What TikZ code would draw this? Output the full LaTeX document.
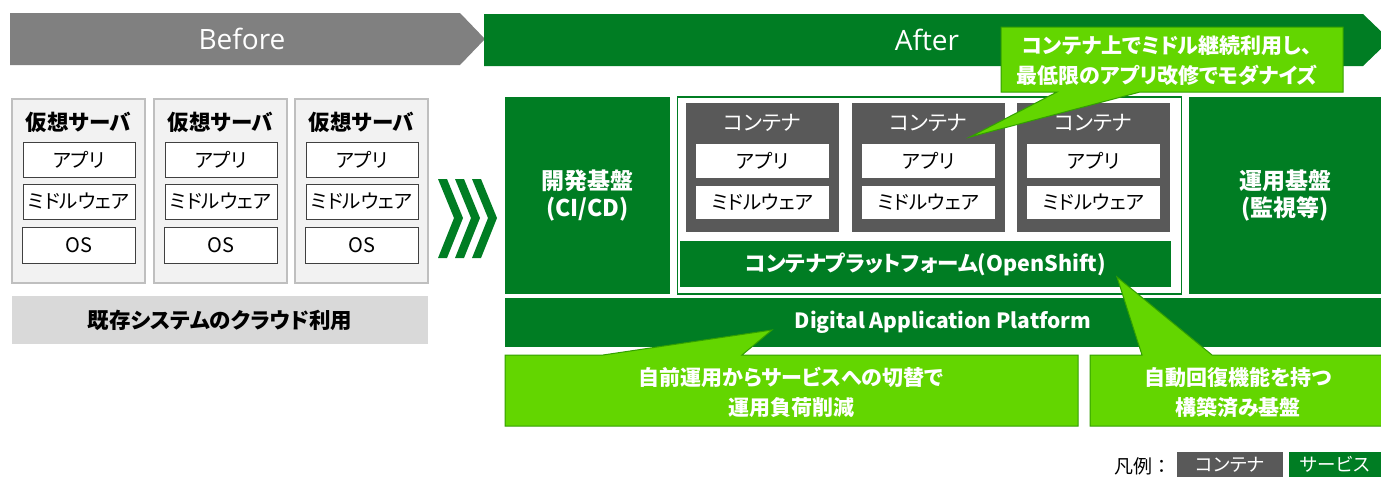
\documentclass[tikz,border=0pt]{standalone}
\usepackage{fontspec}
\setmainfont{Noto Sans CJK JP}[RawFeature=+palt]
\newfontfamily\fullwidthfont{Noto Sans CJK JP}
\newfontfamily\latinfont{Open Sans}
\definecolor{dkgreen}{RGB}{0,125,35}
\definecolor{lime}{RGB}{99,214,0}
\definecolor{limeborder}{RGB}{50,160,0}
\definecolor{bannergray}{RGB}{128,128,128}
\definecolor{contgray}{RGB}{89,89,89}
\definecolor{srvfill}{RGB}{242,242,242}
\definecolor{srvborder}{RGB}{191,191,191}
\definecolor{lblgray}{RGB}{217,217,217}
\tikzset{
  every node/.style={inner sep=0pt, outer sep=0pt},
  srv/.style={fill=srvfill, draw=srvborder, line width=2pt},
  inbox/.style={fill=white, draw=black!75, line width=1pt, font=\fontsize{19.5}{22}\selectfont},
  srvtitle/.style={font=\bfseries\fontsize{21.5}{24}\selectfont},
  cont/.style={fill=contgray},
  contin/.style={fill=white, font=\fontsize{19.5}{22}\selectfont},
  conttitle/.style={text=white, font=\fontsize{21}{24}\selectfont},
  svc/.style={fill=dkgreen, text=white, align=center},
  callout/.style={fill=lime, draw=limeborder, line width=1pt},
  callouttext/.style={text=white, align=center, font=\bfseries\fontsize{21}{30}\selectfont},
  banner/.style={text=white, font=\latinfont\fontsize{28}{30}\selectfont}
}
\begin{document}
\begin{tikzpicture}[x=1pt,y=-1pt]
\useasboundingbox (0,0) rectangle (1381,477);
\clip (0,0) rectangle (1381,477);
% banners
\fill[bannergray] (10,13) -- (460,13) -- (485,39) -- (460,65) -- (10,65) -- cycle;
\node[banner] (before) at (242,39) {Before};
\fill[dkgreen] (484,14) -- (1363,14) -- (1390,40) -- (1363,66) -- (484,66) -- cycle;
\node[banner] (after) at (927,40) {After};
% servers
\foreach \i/\x in {1/12,2/154,3/295}{
  \node[srv, anchor=north west, minimum width=133, minimum height=184] (srv\i) at (\x,99) {};
  \node[srvtitle] (srvt\i) at (\x+66.5,122) {仮想サーバ};
  \node[inbox, minimum width=112, minimum height=35] (app\i) at (\x+67,159.5) {アプリ};
  \node[inbox, minimum width=112, minimum height=35] (mw\i) at (\x+67,201.5) {ミドルウェア};
  \node[inbox, minimum width=113, minimum height=36, font=\fontsize{20}{22}\selectfont] (os\i) at (\x+67,245) {OS};
}
\node[fill=lblgray, minimum width=416, minimum height=48, font=\bfseries\fontsize{21.5}{24}\selectfont] (exist) at (220,320) {既存システムのクラウド利用};
% chevrons
\foreach \x in {438,455,472}{
  \fill[dkgreen] (\x,179) -- (\x+9,179) -- (\x+25,218) -- (\x+9,258) -- (\x,258) -- (\x+16,218) -- cycle;
}
% after side
\node[svc, minimum width=165, minimum height=197, font=\bfseries\fontsize{23}{27}\selectfont] (dev) at (587.5,195.5) {開発基盤\\(CI/CD)};
\node[draw=dkgreen, line width=1.5pt, fill=white, minimum width=504, minimum height=197] (carea) at (929.5,195.5) {};
\foreach \i/\x in {1/686,2/852,3/1017}{
  \node[cont, minimum width=153, minimum height=129] (c\i) at (\x+76.5,167.5) {};
  \node[conttitle] (ct\i) at (\x+76.5,123) {コンテナ};
  \node[contin, minimum width=133, minimum height=34] (capp\i) at (\x+76.5,161) {アプリ};
  \node[contin, minimum width=133, minimum height=33] (cmw\i) at (\x+76.5,202.5) {ミドルウェア};
}
\node[svc, minimum width=491, minimum height=46, font=\bfseries\fontsize{21.5}{24}\selectfont] (plat) at (925.5,264) {コンテナプラットフォーム(OpenShift)};
\node[svc, minimum width=192, minimum height=197, font=\bfseries\fontsize{23}{27}\selectfont] (ops) at (1285,195.5) {運用基盤\\(監視等)};
\node[svc, minimum width=876, minimum height=49, font=\bfseries\fontsize{21}{24}\selectfont] (dap) at (943,322.5) {Digital Application Platform};
% callouts
\path[callout] (1001,27) -- (1343,27) -- (1343,92) -- (1140,92) -- (970,137) -- (1057,92) -- (1001,92) -- cycle;
\node[callouttext] (co1) at (1167,61) {コンテナ上でミドル継続利用し、\\最低限のアプリ改修でモダナイズ};
\path[callout] (505,355) -- (603,355) -- (772,330) -- (742,355) -- (1078,355) -- (1078,426) -- (505,426) -- cycle;
\node[callouttext] (co2) at (791,392.5) {自前運用からサービスへの切替で\\運用負荷削減};
\path[callout] (1090,355) -- (1142,355) -- (1117,277) -- (1212,355) -- (1390,355) -- (1390,426) -- (1090,426) -- cycle;
\node[callouttext] (co3) at (1238,392.5) {自動回復機能を持つ\\構築済み基盤};
% legend
\node[font=\fullwidthfont\fontsize{19}{20}\selectfont] (legend) at (1143,466) {凡例：};
\node[fill=contgray, text=white, minimum width=106, minimum height=25, font=\fontsize{18.5}{20}\selectfont] (lgc) at (1230,464.5) {コンテナ};
\node[fill=dkgreen, text=white, minimum width=92, minimum height=25, font=\fontsize{18.5}{20}\selectfont] (lgs) at (1335,464.5) {サービス};
\end{tikzpicture}
\end{document}
